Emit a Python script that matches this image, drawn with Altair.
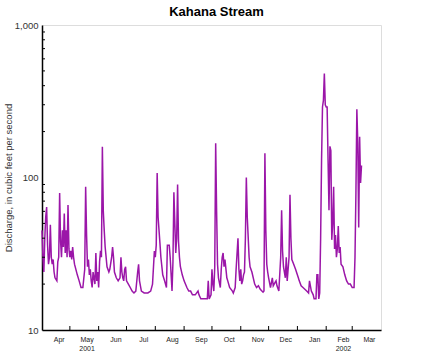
import altair as alt
import pandas as pd

# Daily discharge readings (cubic feet per second), Kahana Stream, Apr 2001 - Mar 2002
dates = [
    "2001-04-01", "2001-04-02", "2001-04-03", "2001-04-04", "2001-04-05", "2001-04-06", "2001-04-07",
    "2001-04-08", "2001-04-09", "2001-04-10", "2001-04-11", "2001-04-12", "2001-04-13", "2001-04-14",
    "2001-04-15", "2001-04-17", "2001-04-18", "2001-04-19", "2001-04-20", "2001-04-21", "2001-04-22",
    "2001-04-23", "2001-04-24", "2001-04-25", "2001-04-26", "2001-04-27", "2001-04-28", "2001-04-29",
    "2001-04-30",
    "2001-05-01", "2001-05-02", "2001-05-03", "2001-05-04", "2001-05-05", "2001-05-06", "2001-05-09",
    "2001-05-11", "2001-05-13", "2001-05-15", "2001-05-17", "2001-05-18", "2001-05-19", "2001-05-20",
    "2001-05-21", "2001-05-22", "2001-05-23", "2001-05-24", "2001-05-25", "2001-05-26", "2001-05-28",
    "2001-05-29", "2001-05-30", "2001-05-31",
    "2001-06-01", "2001-06-02", "2001-06-03", "2001-06-04", "2001-06-05", "2001-06-06", "2001-06-07",
    "2001-06-08", "2001-06-10", "2001-06-12", "2001-06-13", "2001-06-15", "2001-06-16", "2001-06-17",
    "2001-06-18", "2001-06-20", "2001-06-22", "2001-06-24", "2001-06-25", "2001-06-26", "2001-06-27",
    "2001-06-28", "2001-06-29", "2001-06-30",
    "2001-07-01", "2001-07-03", "2001-07-05", "2001-07-07", "2001-07-09", "2001-07-11", "2001-07-13",
    "2001-07-14", "2001-07-15", "2001-07-17", "2001-07-20", "2001-07-24", "2001-07-27", "2001-07-29",
    "2001-07-31",
    "2001-08-01", "2001-08-02", "2001-08-03", "2001-08-04", "2001-08-06", "2001-08-07", "2001-08-09",
    "2001-08-11", "2001-08-13", "2001-08-14", "2001-08-16", "2001-08-17", "2001-08-19", "2001-08-20",
    "2001-08-21", "2001-08-23", "2001-08-24", "2001-08-25", "2001-08-26", "2001-08-27", "2001-08-28",
    "2001-08-30",
    "2001-09-01", "2001-09-04", "2001-09-06", "2001-09-08", "2001-09-10", "2001-09-13", "2001-09-16",
    "2001-09-17", "2001-09-19", "2001-09-22", "2001-09-24", "2001-09-26", "2001-09-27", "2001-09-28",
    "2001-09-30",
    "2001-10-01", "2001-10-02", "2001-10-03", "2001-10-04", "2001-10-05", "2001-10-06", "2001-10-07",
    "2001-10-08", "2001-10-10", "2001-10-11", "2001-10-12", "2001-10-13", "2001-10-14", "2001-10-15",
    "2001-10-17", "2001-10-18", "2001-10-20", "2001-10-23", "2001-10-24", "2001-10-26", "2001-10-27",
    "2001-10-29", "2001-10-30", "2001-10-31",
    "2001-11-01", "2001-11-02", "2001-11-03", "2001-11-04", "2001-11-05", "2001-11-06", "2001-11-07",
    "2001-11-08", "2001-11-10", "2001-11-11", "2001-11-13", "2001-11-16", "2001-11-18", "2001-11-20",
    "2001-11-22", "2001-11-25", "2001-11-26", "2001-11-27", "2001-11-28", "2001-11-29", "2001-11-30",
    "2001-12-01", "2001-12-03", "2001-12-05", "2001-12-06", "2001-12-08", "2001-12-09", "2001-12-10",
    "2001-12-12", "2001-12-14", "2001-12-15", "2001-12-16", "2001-12-17", "2001-12-19", "2001-12-20",
    "2001-12-21", "2001-12-23", "2001-12-24", "2001-12-25", "2001-12-26", "2001-12-28", "2001-12-30",
    "2002-01-02", "2002-01-03", "2002-01-05", "2002-01-07", "2002-01-09", "2002-01-11", "2002-01-13",
    "2002-01-14", "2002-01-16", "2002-01-17", "2002-01-18", "2002-01-19", "2002-01-21", "2002-01-22",
    "2002-01-23", "2002-01-24", "2002-01-25", "2002-01-26", "2002-01-27", "2002-01-28", "2002-01-29",
    "2002-01-30", "2002-01-31",
    "2002-02-01", "2002-02-02", "2002-02-03", "2002-02-04", "2002-02-05", "2002-02-06", "2002-02-07",
    "2002-02-08", "2002-02-09", "2002-02-10", "2002-02-11", "2002-02-12", "2002-02-13", "2002-02-14",
    "2002-02-15", "2002-02-16", "2002-02-17", "2002-02-19", "2002-02-21", "2002-02-23", "2002-02-25",
    "2002-02-27",
    "2002-03-01", "2002-03-03", "2002-03-04", "2002-03-05", "2002-03-06", "2002-03-07", "2002-03-08",
    "2002-03-09", "2002-03-10", "2002-03-11",
]
discharge = [
    45, 30, 24, 40, 55, 64, 36,
    27, 30, 49, 30, 27, 29, 24,
    22, 21, 28, 30, 79, 38, 30,
    45, 35, 58, 32, 45, 30, 66,
    34,
    30, 33, 29, 35, 30, 27, 23,
    21, 19, 19, 25, 87, 42, 26,
    29, 23, 25, 21, 19, 24, 20,
    32, 21, 24,
    19, 28, 33, 30, 159, 60, 45,
    35, 26, 24, 25, 30, 35, 30,
    24, 22, 21, 22, 30, 24, 22,
    21, 25, 26,
    21, 20, 19, 18, 17.5, 18, 24,
    27, 21, 18, 17.5, 17.5, 18, 20,
    33,
    30, 36, 107, 55, 37, 30, 23,
    21, 19, 36, 36, 30, 18, 28,
    80, 32, 40, 90, 38, 30, 26,
    23,
    21, 19, 18, 18, 17, 17, 18,
    17, 16, 16, 16, 16, 21, 16,
    17,
    25, 20, 18, 26, 168, 60, 27,
    22, 19, 25, 30, 32, 26, 29,
    22, 21, 19, 18, 17.5, 19, 25,
    40, 25, 21,
    25, 20, 21, 23, 24, 40, 100,
    55, 30, 26, 24, 20, 19, 19.5,
    18.5, 17.7, 18, 144, 45, 27, 24,
    22, 19, 22, 19.5, 20.5, 21, 19.5,
    18, 30, 61, 33, 26, 22, 30,
    21, 30, 77, 40, 29, 27, 25,
    22, 21, 19.5, 19, 18.5, 18, 17.5,
    21, 18, 17.5, 17, 16, 16, 23,
    23, 16, 17.5, 40, 130, 290, 320,
    480, 300,
    290, 290, 130, 61, 160, 150, 39,
    50, 87, 34, 42, 30, 34, 48,
    32, 35, 27, 26, 23, 21, 20,
    20,
    19, 19, 30, 79, 280, 168, 47,
    185, 92, 120,
]

# Axis furniture
month_starts = ["2001-05-01", "2001-06-01", "2001-07-01", "2001-08-01", "2001-09-01", "2001-10-01",
                "2001-11-01", "2001-12-01", "2002-01-01", "2002-02-01", "2002-03-01"]
label_months = [(2001, 4), (2001, 5), (2001, 6), (2001, 7), (2001, 8), (2001, 9), (2001, 10),
                (2001, 11), (2001, 12), (2002, 1), (2002, 2), (2002, 3)]
y_major = [10, 100, 1000]
y_minor = [20, 30, 40, 50, 60, 70, 80, 90, 200, 300, 400, 500, 600, 700, 800, 900]

W, H = 339, 305
FONT = "Liberation Sans"

df = pd.DataFrame({"date": dates, "q": discharge})
ticks_x = pd.DataFrame({"date": month_starts})
ticks_y = pd.DataFrame({"q": y_minor})

xscale = alt.Scale(domain=[alt.DateTime(year=2001, month=4, date=1, utc=True),
                           alt.DateTime(year=2002, month=4, date=1, utc=True)])
yscale = alt.Scale(type="log", domain=[10, 1000])

label_vals = [alt.DateTime(year=y, month=m, date=19, utc=True) for y, m in label_months]

xaxis = alt.Axis(values=label_vals, ticks=False, grid=False, title=None,
                 labelExpr="utcmonth(datum.value)==4 || utcmonth(datum.value)==1 ? "
                           "[utcFormat(datum.value, '%b'), utcFormat(datum.value, '%Y')] : "
                           "utcFormat(datum.value, '%b')",
                 labelFontSize=7, labelFont=FONT, labelColor="#222", labelPadding=5,
                 labelLineHeight=9,
                 domainColor="#000", domainWidth=1.5)
yaxis = alt.Axis(values=y_major, format=",", ticks=False, grid=False,
                 title="Discharge, in cubic feet per second",
                 titleFont=FONT, titleFontSize=9.5, titleFontWeight="normal",
                 titleColor="#333", titleAngle=270, titleAlign="center",
                 titleBaseline="middle", titleX=-34, titleY=H / 2,
                 labelFont=FONT, labelFontSize=9.5, labelColor="#333", labelPadding=4,
                 domainColor="#000", domainWidth=1.5)

line = alt.Chart(df).mark_line(color="#9b16a8", strokeWidth=1.5, interpolate="linear").encode(
    x=alt.X("date:T", scale=xscale, axis=xaxis),
    y=alt.Y("q:Q", scale=yscale, axis=yaxis),
)

xt = alt.Chart(ticks_x).mark_rule(color="#000", strokeWidth=1).encode(
    x=alt.X("date:T", scale=xscale, axis=xaxis),
    y=alt.value(H),
    y2=alt.value(H - 4),
)

yt = alt.Chart(ticks_y).mark_rule(color="#000", strokeWidth=1).encode(
    y=alt.Y("q:Q", scale=yscale, axis=yaxis),
    x=alt.value(0),
    x2=alt.value(3),
)

chart = alt.layer(line, xt, yt).properties(
    width=W, height=H,
    title=alt.Title("Kahana Stream", font=FONT, fontSize=13, fontWeight="bold",
                    color="#000", anchor="middle", offset=1, dx=5),
    autosize=alt.AutoSizeParams(type="none"),
    padding={"left": 42, "top": 25, "right": 51, "bottom": 22},
).configure_view(stroke="#808080", strokeWidth=1.5).configure(background="#ffffff")

chart.save("out.html", embed_options={"renderer": "svg", "actions": False})
